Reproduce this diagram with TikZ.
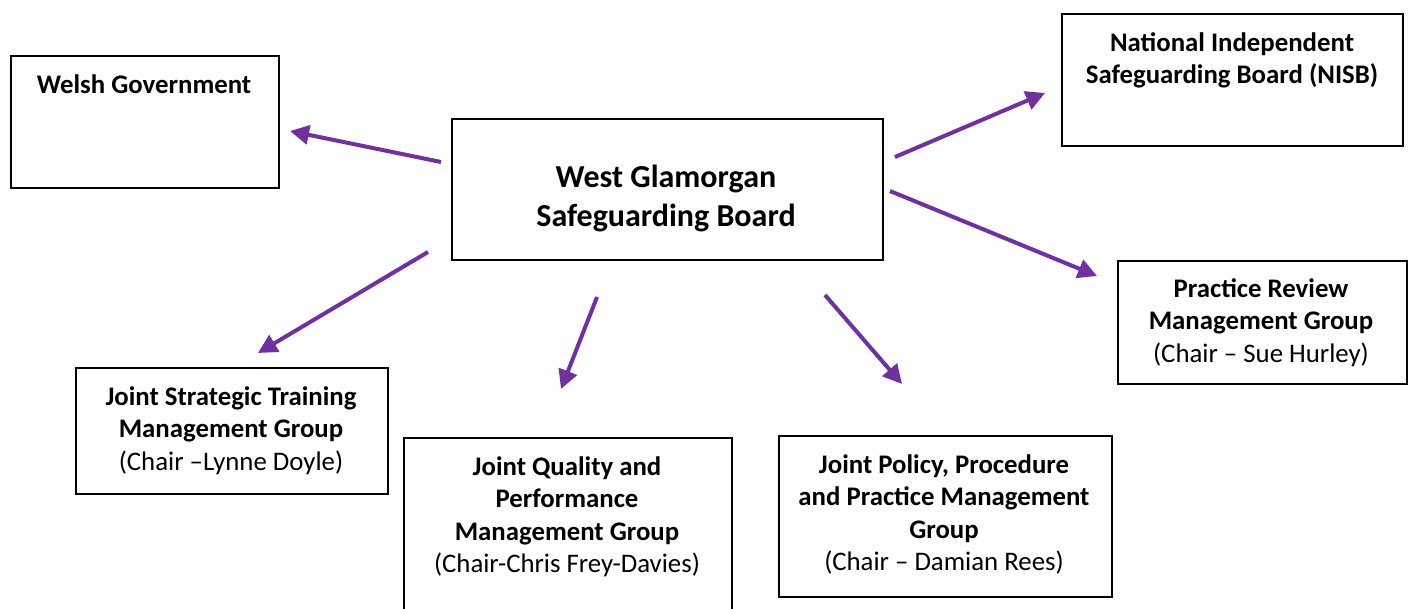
\documentclass[tikz,border=0pt]{standalone}
\usepackage{fontspec}
\setmainfont{Carlito}
\usetikzlibrary{arrows.meta}
\definecolor{arr}{HTML}{7030A0}
\begin{document}
\begin{tikzpicture}[x=1pt,y=-1pt,
 box/.style={draw=black, line width=1.5pt, inner sep=0pt, anchor=north west},
 txt/.style={align=center, inner sep=0pt, anchor=north, font=\fontsize{26.8}{32.5}\selectfont},
 bigtxt/.style={align=center, inner sep=0pt, anchor=north, font=\fontsize{32}{39}\selectfont\bfseries},
 conn/.style={draw=arr, line width=4pt, -{Triangle[length=19pt,width=19pt]}}]
\useasboundingbox (0,0) rectangle (1411,608);
% boxes
\node[box, minimum width=268pt, minimum height=132pt] (wg) at (10,55) {};
\node[box, minimum width=431pt, minimum height=141pt] (wgsb) at (451,118) {};
\node[box, minimum width=341pt, minimum height=132pt] (nisb) at (1061,13) {};
\node[box, minimum width=289pt, minimum height=123pt] (prm) at (1117,260) {};
\node[box, minimum width=312pt, minimum height=126pt] (jst) at (75,367) {};
\node[box, minimum width=328pt, minimum height=185pt] (jqp) at (403,437) {};
\node[box, minimum width=333pt, minimum height=161pt] (jpp) at (778,435) {};
% texts
\node[txt] (wgT) at (144,74) {\bfseries Welsh Government};
\node[bigtxt] (wgsbT) at (666,165) {West Glamorgan\\Safeguarding Board};
\node[txt] (nisbT) at (1232,32) {\bfseries National Independent\\\bfseries Safeguarding Board (NISB)};
\node[txt] (prmT) at (1261,278) {\bfseries Practice Review\\\bfseries Management Group\\(Chair -- Sue Hurley)};
\node[txt] (jstT) at (231,386) {\bfseries Joint Strategic Training\\\bfseries Management Group\\(Chair --Lynne Doyle)};
\node[txt] (jqpT) at (567,456) {\bfseries Joint Quality and\\\bfseries Performance\\\bfseries Management Group\\(Chair-Chris Frey-Davies)};
\node[txt] (jppT) at (944,454) {\bfseries Joint Policy, Procedure\\\bfseries and Practice Management\\\bfseries Group\\(Chair -- Damian Rees)};
% connector ends
\coordinate (s1) at (441,162); \coordinate (e1) at (290,131);
\coordinate (s2) at (895,157); \coordinate (e2) at (1045,93);
\coordinate (s3) at (890,191); \coordinate (e3) at (1097,276);
\coordinate (s4) at (428,252); \coordinate (e4) at (258,353);
\coordinate (s5) at (597,297); \coordinate (e5) at (561,389);
\coordinate (s6) at (825,295); \coordinate (e6) at (902,384);
\draw[conn] (s1) -- (e1);
\draw[conn] (s2) -- (e2);
\draw[conn] (s3) -- (e3);
\draw[conn] (s4) -- (e4);
\draw[conn] (s5) -- (e5);
\draw[conn] (s6) -- (e6);
\end{tikzpicture}
\end{document}
